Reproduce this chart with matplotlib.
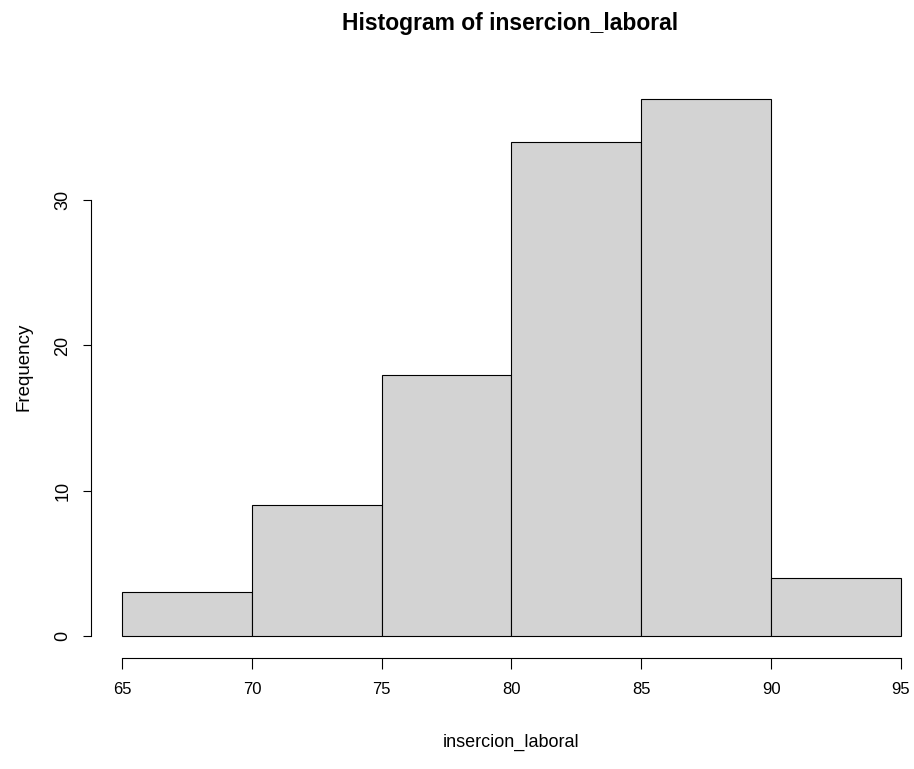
import matplotlib.pyplot as plt
import numpy as np

# histogram of insercion_laboral, counts per 5-point bin
bin_edges = [65, 70, 75, 80, 85, 90, 95]
counts = [3, 9, 18, 34, 37, 4]
y_ticks = [0, 10, 20, 30]

font = ['Liberation Sans', 'DejaVu Sans']

fig = plt.figure(figsize=(9.14, 7.69), dpi=100)
ax = fig.add_axes([91 / 914, 111.5 / 769, 841 / 914, 580.5 / 769])

edges = np.array(bin_edges)
ax.bar(edges[:-1], counts, width=np.diff(edges), align='edge',
       color='#d3d3d3', edgecolor='black', linewidth=0.8)

# R-style plot region: 4% padding around the data range
xr = edges[-1] - edges[0]
ymax = max(counts)
ax.set_xlim(edges[0] - 0.04 * xr, edges[-1] + 0.04 * xr)
ax.set_ylim(-0.04 * ymax, ymax * 1.04)

for s in ['top', 'right']:
    ax.spines[s].set_visible(False)
ax.spines['left'].set_bounds(y_ticks[0], y_ticks[-1])
ax.spines['bottom'].set_bounds(edges[0], edges[-1])
for s in ['left', 'bottom']:
    ax.spines[s].set_linewidth(0.8)

ax.set_xticks(bin_edges)
ax.set_xticklabels([str(v) for v in bin_edges], family=font, fontsize=12)
ax.set_yticks(y_ticks)
ax.set_yticklabels([str(v) for v in y_ticks], family=font, fontsize=13,
                   rotation=90, va='center')
ax.tick_params(axis='x', length=8, width=0.8, pad=10)
ax.tick_params(axis='y', length=6, width=0.8, pad=8)

ax.set_xlabel('insercion_laboral', family=font, fontsize=13, labelpad=26)
ax.set_ylabel('Frequency', family=font, fontsize=13.5, labelpad=16)
fig.text(0.558, 0.970, 'Histogram of insercion_laboral', family=font,
         fontsize=16.5, fontweight='bold', ha='center', va='center')

fig.savefig('out.png', dpi=100)
